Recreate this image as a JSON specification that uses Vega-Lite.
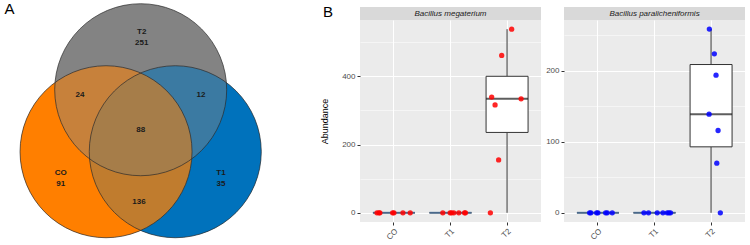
{
  "$schema": "https://vega.github.io/schema/vega-lite/v6.json",
  "background": "white",
  "padding": {"left": 4, "top": 2, "right": 0, "bottom": 0},
  "spacing": 4,
  "config": {
    "font": "Liberation Sans",
    "view": {"stroke": null},
    "axis": {
      "labelFontSize": 8,
      "labelColor": "#4d4d4d",
      "tickColor": "#333333",
      "tickSize": 3,
      "domain": false,
      "gridColor": "#ffffff",
      "gridWidth": 1,
      "titleFontSize": 9,
      "titleFontWeight": "normal",
      "titleColor": "#000000",
      "labelPadding": 2,
      "minExtent": 0
    },
    "title": {"fontSize": 15, "fontWeight": "normal", "color": "#000000"}
  },
  "datasets": {
    "sets": [
      {"set": "T1", "cx": 0.402, "cy": -0.241},
      {"set": "CO", "cx": -0.403, "cy": -0.241},
      {"set": "T2", "cx": 0.0, "cy": 0.48}
    ],
    "regions": [
      {"label": "T2\n251", "lx": 0.012, "ly": 1.157},
      {"label": "24", "lx": -0.706, "ly": 0.419},
      {"label": "12", "lx": 0.701, "ly": 0.419},
      {"label": "88", "lx": 0.0, "ly": 0.008},
      {"label": "CO\n91", "lx": -0.93, "ly": -0.491},
      {"label": "T1\n35", "lx": 0.934, "ly": -0.491},
      {"label": "136", "lx": -0.02, "ly": -0.822}
    ],
    "abund": [
      {"species": "Bacillus megaterium", "group": "CO", "abundance": 0, "jitter": -0.3},
      {"species": "Bacillus megaterium", "group": "CO", "abundance": 0, "jitter": -0.265},
      {"species": "Bacillus megaterium", "group": "CO", "abundance": 0, "jitter": -0.248},
      {"species": "Bacillus megaterium", "group": "CO", "abundance": 0, "jitter": -0.023},
      {"species": "Bacillus megaterium", "group": "CO", "abundance": 0, "jitter": 0.0},
      {"species": "Bacillus megaterium", "group": "CO", "abundance": 0, "jitter": 0.159},
      {"species": "Bacillus megaterium", "group": "CO", "abundance": 0, "jitter": 0.288},
      {"species": "Bacillus megaterium", "group": "T1", "abundance": 0, "jitter": -0.136},
      {"species": "Bacillus megaterium", "group": "T1", "abundance": 0, "jitter": -0.007},
      {"species": "Bacillus megaterium", "group": "T1", "abundance": 0, "jitter": 0.018},
      {"species": "Bacillus megaterium", "group": "T1", "abundance": 0, "jitter": 0.058},
      {"species": "Bacillus megaterium", "group": "T1", "abundance": 0, "jitter": 0.147},
      {"species": "Bacillus megaterium", "group": "T1", "abundance": 0, "jitter": 0.248},
      {"species": "Bacillus megaterium", "group": "T1", "abundance": 0, "jitter": 0.265},
      {"species": "Bacillus megaterium", "group": "T2", "abundance": 538, "jitter": 0.081},
      {"species": "Bacillus megaterium", "group": "T2", "abundance": 461, "jitter": -0.095},
      {"species": "Bacillus megaterium", "group": "T2", "abundance": 339, "jitter": -0.272},
      {"species": "Bacillus megaterium", "group": "T2", "abundance": 316, "jitter": -0.212},
      {"species": "Bacillus megaterium", "group": "T2", "abundance": 334, "jitter": 0.248},
      {"species": "Bacillus megaterium", "group": "T2", "abundance": 155, "jitter": -0.149},
      {"species": "Bacillus megaterium", "group": "T2", "abundance": 0, "jitter": -0.295},
      {"species": "Bacillus paralicheniformis", "group": "CO", "abundance": 0, "jitter": -0.147},
      {"species": "Bacillus paralicheniformis", "group": "CO", "abundance": 0, "jitter": -0.124},
      {"species": "Bacillus paralicheniformis", "group": "CO", "abundance": 0, "jitter": -0.023},
      {"species": "Bacillus paralicheniformis", "group": "CO", "abundance": 0, "jitter": 0.0},
      {"species": "Bacillus paralicheniformis", "group": "CO", "abundance": 0, "jitter": 0.136},
      {"species": "Bacillus paralicheniformis", "group": "CO", "abundance": 0, "jitter": 0.164},
      {"species": "Bacillus paralicheniformis", "group": "CO", "abundance": 0, "jitter": 0.253},
      {"species": "Bacillus paralicheniformis", "group": "T1", "abundance": 0, "jitter": -0.187},
      {"species": "Bacillus paralicheniformis", "group": "T1", "abundance": 0, "jitter": -0.106},
      {"species": "Bacillus paralicheniformis", "group": "T1", "abundance": 0, "jitter": 0.048},
      {"species": "Bacillus paralicheniformis", "group": "T1", "abundance": 0, "jitter": 0.149},
      {"species": "Bacillus paralicheniformis", "group": "T1", "abundance": 0, "jitter": 0.225},
      {"species": "Bacillus paralicheniformis", "group": "T1", "abundance": 0, "jitter": 0.255},
      {"species": "Bacillus paralicheniformis", "group": "T1", "abundance": 0, "jitter": 0.283},
      {"species": "Bacillus paralicheniformis", "group": "T2", "abundance": 259, "jitter": -0.03},
      {"species": "Bacillus paralicheniformis", "group": "T2", "abundance": 224, "jitter": 0.058},
      {"species": "Bacillus paralicheniformis", "group": "T2", "abundance": 194, "jitter": 0.088},
      {"species": "Bacillus paralicheniformis", "group": "T2", "abundance": 139, "jitter": -0.035},
      {"species": "Bacillus paralicheniformis", "group": "T2", "abundance": 116, "jitter": 0.124},
      {"species": "Bacillus paralicheniformis", "group": "T2", "abundance": 70, "jitter": 0.101},
      {"species": "Bacillus paralicheniformis", "group": "T2", "abundance": 0, "jitter": 0.164}
    ]
  },
  "hconcat": [
    {
      "title": {"text": "A", "orient": "left", "angle": 0, "align": "right", "baseline": "top", "anchor": "end", "offset": -6},
      "width": 292,
      "height": 239,
      "encoding": {
        "x": {"field": "cx", "type": "quantitative", "axis": null, "scale": {"domain": [-1.357, 2.0384], "nice": false, "zero": false}},
        "y": {"field": "cy", "type": "quantitative", "axis": null, "scale": {"domain": [-1.3372, 1.4419], "nice": false, "zero": false}},
        "color": {"field": "set", "type": "nominal", "legend": null, "scale": {"domain": ["CO", "T1", "T2"], "range": ["#ff7f00", "#0072bc", "#838383"]}}
      },
      "layer": [
        {
          "data": {"name": "sets"},
          "mark": {"type": "circle", "size": 29584, "opacity": 1}
        },
        {
          "data": {"name": "sets"},
          "transform": [{"filter": "datum.set === 'T1'"}],
          "mark": {"type": "circle", "size": 29584, "opacity": 0.55}
        },
        {
          "data": {"name": "sets"},
          "transform": [{"filter": "datum.set === 'CO'"}],
          "mark": {"type": "circle", "size": 29584, "opacity": 0.55}
        },
        {
          "data": {"name": "sets"},
          "mark": {"type": "point", "shape": "circle", "size": 29584, "filled": false, "stroke": "#2b2b2b", "strokeWidth": 0.7, "opacity": 1},
          "encoding": {"color": {"value": "#2b2b2b"}}
        },
        {
          "data": {"name": "regions"},
          "mark": {"type": "text", "fontSize": 8, "fontWeight": "bold", "lineBreak": "\n", "lineHeight": 11, "color": "#1a1a1a"},
          "encoding": {
            "x": {"field": "lx", "type": "quantitative"},
            "y": {"field": "ly", "type": "quantitative"},
            "text": {"field": "label"},
            "color": {"value": "#1a1a1a"}
          }
        }
      ]
    },
    {
      "bounds": "flush",
      "spacing": 0,
      "vconcat": [
        {
          "title": {"text": "B", "orient": "left", "angle": 0, "align": "right", "baseline": "top", "anchor": "end", "offset": 17, "dy": -2},
          "width": 181,
          "height": 13,
          "view": {"fill": "#d9d9d9", "stroke": null},
          "data": {"values": [{"label": "Bacillus megaterium"}]},
          "mark": {"type": "text", "fontSize": 8, "fontStyle": "italic", "color": "#1a1a1a"},
          "encoding": {"text": {"field": "label"}}
        },
        {
          "width": 181,
          "height": 202,
          "view": {"fill": "#ebebeb", "stroke": null},
          "data": {"name": "abund"},
          "transform": [{"filter": "datum.species === 'Bacillus megaterium'"}],
          "resolve": {"axis": {"y": "independent"}},
          "layer": [
            {
              "mark": {"type": "boxplot", "extent": "min-max", "size": 42, "box": {"fill": "white", "color": "white", "stroke": "#333333", "strokeWidth": 1}, "median": {"color": "#1a1a1a", "thickness": 2}, "rule": {"color": "#333333", "strokeWidth": 1}},
              "encoding": {
                "x": {"field": "group", "type": "nominal", "scale": {"paddingInner": 0, "paddingOuter": 0.1}, "axis": {"title": null, "labelAngle": -45, "bandPosition": 0.5, "grid": true}},
                "y": {"field": "abundance", "type": "quantitative", "scale": {"domain": [-26.9, 564.9], "nice": false, "zero": false}, "axis": {"title": "Abundance", "values": [0, 200, 400], "grid": true, "titlePadding": 12}}
              }
            },
            {
              "mark": {"type": "circle", "size": 28, "opacity": 0.85, "color": "#ff0000"},
              "encoding": {
                "x": {"field": "group", "type": "nominal"},
                "xOffset": {"field": "jitter", "type": "quantitative", "scale": {"domain": [-0.5, 0.5]}},
                "y": {"field": "abundance", "type": "quantitative", "axis": {"orient": "right", "values": [100, 300, 500], "labels": false, "ticks": false, "domain": false, "title": null, "grid": true, "gridWidth": 0.5}}
              }
            }
          ]
        }
      ]
    },
    {
      "bounds": "flush",
      "spacing": 0,
      "vconcat": [
        {
          "width": 181,
          "height": 13,
          "view": {"fill": "#d9d9d9", "stroke": null},
          "data": {"values": [{"label": "Bacillus paralicheniformis"}]},
          "mark": {"type": "text", "fontSize": 8, "fontStyle": "italic", "color": "#1a1a1a"},
          "encoding": {"text": {"field": "label"}}
        },
        {
          "width": 181,
          "height": 202,
          "view": {"fill": "#ebebeb", "stroke": null},
          "data": {"name": "abund"},
          "transform": [{"filter": "datum.species === 'Bacillus paralicheniformis'"}],
          "resolve": {"axis": {"y": "independent"}},
          "layer": [
            {
              "mark": {"type": "boxplot", "extent": "min-max", "size": 42, "box": {"fill": "white", "color": "white", "stroke": "#333333", "strokeWidth": 1}, "median": {"color": "#1a1a1a", "thickness": 2}, "rule": {"color": "#333333", "strokeWidth": 1}},
              "encoding": {
                "x": {"field": "group", "type": "nominal", "scale": {"paddingInner": 0, "paddingOuter": 0.1}, "axis": {"title": null, "labelAngle": -45, "bandPosition": 0.5, "grid": true}},
                "y": {"field": "abundance", "type": "quantitative", "scale": {"domain": [-12.94, 271.74], "nice": false, "zero": false}, "axis": {"title": null, "values": [0, 100, 200], "grid": true}}
              }
            },
            {
              "mark": {"type": "circle", "size": 28, "opacity": 0.85, "color": "#0000ff"},
              "encoding": {
                "x": {"field": "group", "type": "nominal"},
                "xOffset": {"field": "jitter", "type": "quantitative", "scale": {"domain": [-0.5, 0.5]}},
                "y": {"field": "abundance", "type": "quantitative", "axis": {"orient": "right", "values": [50, 150, 250], "labels": false, "ticks": false, "domain": false, "title": null, "grid": true, "gridWidth": 0.5}}
              }
            }
          ]
        }
      ]
    }
  ]
}
